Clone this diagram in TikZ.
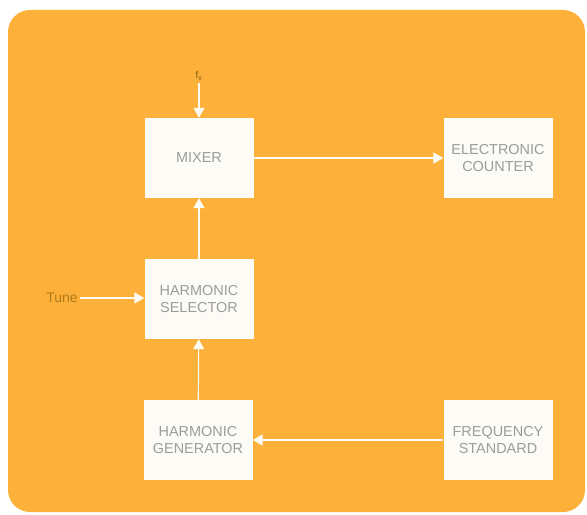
\documentclass[tikz,border=0pt]{standalone}
\usepackage{fontspec}
\setmainfont{Liberation Sans}
\usetikzlibrary{positioning,arrows.meta}
\definecolor{panelorange}{HTML}{FDB13A}
\definecolor{boxwhite}{HTML}{FDFBF6}
\definecolor{labelgrey}{HTML}{9C9C9C}
\definecolor{tunebrown}{HTML}{B07A1A}

\begin{document}
\begin{tikzpicture}[x=1bp,y=-1bp,>={Triangle[width=11bp,length=10bp]},line join=bevel,
  blockbox/.style={draw=none,fill=boxwhite,minimum width=109bp,minimum height=80bp,
    inner sep=0pt,align=center,font=\fontsize{14.5}{18}\selectfont,text=labelgrey},
  wire/.style={draw=boxwhite,line width=1.2bp,->},
]
\useasboundingbox (0,0) rectangle (587,515);
\fill[white] (0,0) rectangle (587,515);
\fill[panelorange,rounded corners=22bp] (8,10) rectangle (585,512);
%%
\node (mixer) at (199,158) [blockbox] {MIXER};
  \node (counter) at (498,158) [blockbox] {ELECTRONIC\\COUNTER};
  \node (selector) at (199,299) [blockbox] {HARMONIC\\SELECTOR};
  \node (generator) at (198,440) [blockbox] {HARMONIC\\GENERATOR};
  \node (standard) at (498,440) [blockbox] {FREQUENCY\\STANDARD};
  \node (fx) at (199,76) [font=\fontsize{10}{11}\selectfont,text=tunebrown!70!black,inner sep=2bp] {f$_{\mathrm x}$};
  \node (tune) at (62,298) [font=\fontsize{14}{16}\selectfont,text=tunebrown,inner sep=2bp] {Tune};
  \draw [wire] (fx) -- (mixer);
  \draw [wire] (mixer) -- (counter);
  \draw [wire] (selector) -- (mixer);
  \draw [wire] (tune) -- (tune -| selector.west);
  \draw [wire] (generator) -- (selector);
  \draw [wire] (standard) -- (generator);
%
\end{tikzpicture}
\end{document}
